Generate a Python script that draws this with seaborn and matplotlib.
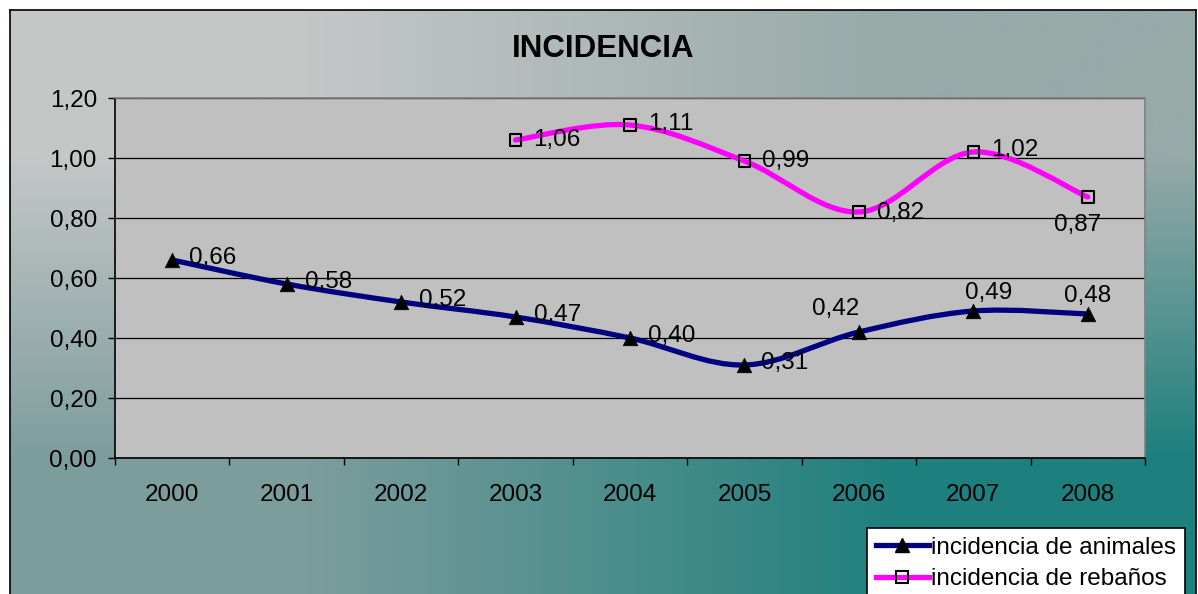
import numpy as np
import pandas as pd
import matplotlib
import matplotlib.pyplot as plt
import seaborn as sns
from matplotlib.path import Path
from matplotlib.patches import PathPatch
from matplotlib.lines import Line2D

matplotlib.use("Agg")

years = ["2000", "2001", "2002", "2003", "2004", "2005", "2006", "2007", "2008"]
animales = [0.66, 0.58, 0.52, 0.47, 0.40, 0.31, 0.42, 0.49, 0.48]
rebanos = [np.nan, np.nan, np.nan, 1.06, 1.11, 0.99, 0.82, 1.02, 0.87]
y_ticks = [0.0, 0.2, 0.4, 0.6, 0.8, 1.0, 1.2]

# label placement (offset in px, alignment) per point
lab_animales = [
    ((17, 2), "left"), ((18, 2), "left"), ((18, 2), "left"),
    ((18, 2), "left"), ((18, 2), "left"), ((17, 2), "left"),
    ((-23, 23), "center"), ((15, 18), "center"), ((0, 18), "center"),
]
lab_rebanos = [
    None, None, None,
    ((18, 0), "left"), ((18, 1), "left"), ((18, 0), "left"),
    ((18, -1), "left"), ((18, 2), "left"), ((-10, -28), "center"),
]

W, H = 1198, 594
FS = 17.5

plt.rcParams["font.family"] = ["Liberation Sans", "DejaVu Sans"]

fig = plt.figure(figsize=(W / 100, H / 100), dpi=100)
fig.patch.set_facecolor("white")

# gradient chart area background
bg = fig.add_axes([10 / W, -0.02, 1186 / W, 1 - 10 / H + 0.02], zorder=-5)
corners = np.array(
    [
        [[197, 199, 199], [150, 170, 168]],
        [[125, 157, 157], [30, 128, 126]],
    ]
) / 255.0
bg.imshow(corners, extent=[0, 1, 0, 1], aspect="auto", interpolation="bilinear")
bg.set_xticks([])
bg.set_yticks([])
for s in bg.spines.values():
    s.set_color("black")
    s.set_linewidth(1.2)

ax = fig.add_axes([115 / W, (H - 458) / H, 1030 / W, 360 / H])
ax.set_facecolor("#c0c0c0")

x = np.arange(len(years))
df = pd.DataFrame({"x": x, "animales": animales, "rebanos": rebanos})


def smooth_path(xs, ys):
    pts = [np.array([a, b]) for a, b in zip(xs, ys) if not np.isnan(b)]
    n = len(pts)
    verts = [pts[0]]
    codes = [Path.MOVETO]
    for i in range(n - 1):
        p0 = pts[i - 1] if i > 0 else pts[i]
        p1 = pts[i]
        p2 = pts[i + 1]
        p3 = pts[i + 2] if i + 2 < n else pts[i + 1]
        verts += [p1 + (p2 - p0) / 6, p2 - (p3 - p1) / 6, p2]
        codes += [Path.CURVE4] * 3
    return Path(verts, codes)


ax.add_patch(
    PathPatch(smooth_path(x, animales), facecolor="none", edgecolor="#000080",
              lw=3.8, capstyle="round", joinstyle="round", zorder=3)
)
ax.add_patch(
    PathPatch(smooth_path(x, rebanos), facecolor="none", edgecolor="#ff00ff",
              lw=3.8, capstyle="round", joinstyle="round", zorder=3)
)

sns.scatterplot(data=df, x="x", y="animales", marker="^", s=110, color="black",
                edgecolor="black", linewidth=0.5, ax=ax, zorder=4, legend=False)
sns.scatterplot(data=df.dropna(), x="x", y="rebanos", marker="s", s=70,
                facecolor="none", edgecolor="black", linewidth=1.5, ax=ax,
                zorder=4, legend=False)


def fmt(v):
    return f"{v:.2f}".replace(".", ",")


for xi, v, lab in zip(x, animales, lab_animales):
    (dx, dy), ha = lab
    ax.annotate(fmt(v), (xi, v), xytext=(dx * 0.72, dy * 0.72),
                textcoords="offset points", ha=ha, va="center",
                fontsize=FS, zorder=5)
for xi, v, lab in zip(x, rebanos, lab_rebanos):
    if lab is None or np.isnan(v):
        continue
    (dx, dy), ha = lab
    ax.annotate(fmt(v), (xi, v), xytext=(dx * 0.72, dy * 0.72),
                textcoords="offset points", ha=ha, va="center",
                fontsize=FS, zorder=5)

ax.set_xlim(-0.5, len(years) - 0.5)
ax.set_ylim(0, 1.2)
ax.set_yticks(y_ticks)
ax.set_yticklabels([fmt(t) for t in y_ticks], fontsize=FS)
ax.set_xticks(x)
ax.set_xticklabels(years, fontsize=FS)
ax.set_xticks(np.arange(len(years) + 1) - 0.5, minor=True)
ax.tick_params(axis="x", which="major", length=0, pad=19)
ax.tick_params(axis="x", which="minor", length=5, width=1, color="black",
               direction="out")
ax.tick_params(axis="y", length=5, width=1, color="black", pad=8)
ax.set_xlabel("")
ax.set_ylabel("")
ax.grid(axis="y", color="black", lw=0.9, zorder=1)
ax.grid(axis="x", visible=False)
ax.set_axisbelow(True)
ax.spines["left"].set_color("black")
ax.spines["bottom"].set_color("black")
ax.spines["top"].set_color("#808080")
ax.spines["right"].set_color("#808080")
for s in ax.spines.values():
    s.set_linewidth(1.2)

fig.text(603 / W, 1 - 49 / H, "INCIDENCIA", ha="center", va="center",
         fontsize=22.5, fontweight="bold")

handles = [
    Line2D([], [], color="#000080", lw=3.8, marker="^", markersize=10,
           markerfacecolor="black", markeredgecolor="black"),
    Line2D([], [], color="#ff00ff", lw=3.8, marker="s", markersize=8,
           markerfacecolor="none", markeredgecolor="black", markeredgewidth=1.5),
]
leg = fig.legend(handles, ["incidencia de animales", "incidencia de rebaños"],
                 loc="upper left", bbox_to_anchor=(867 / W, 1 - 528 / H),
                 fontsize=FS, frameon=True, fancybox=False, framealpha=1,
                 edgecolor="black", handlelength=2.2, handletextpad=0.1,
                 borderpad=0.35, labelspacing=0.4, borderaxespad=0)
leg.get_frame().set_linewidth(1.2)

fig.savefig("out.png", dpi=100)
